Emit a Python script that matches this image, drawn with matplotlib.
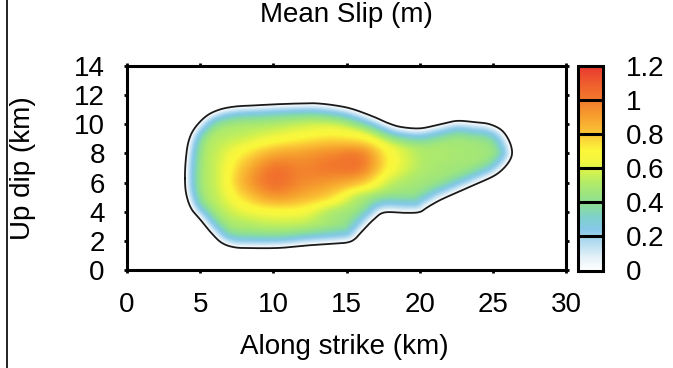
import numpy as np
import matplotlib
matplotlib.use("Agg")
import matplotlib.pyplot as plt
from matplotlib.colors import LinearSegmentedColormap
from matplotlib.path import Path
from matplotlib.lines import Line2D

plt.rcParams["font.family"] = ["Liberation Sans", "DejaVu Sans"]

# ---- slip model: samples on a regular grid (m) ----
strike_nodes = np.arange(0, 31, 2)   # km along strike
dip_nodes = np.arange(0, 15, 1)      # km up dip
slip_rows = [
    [.35, .36, .38, .40, .40, .40, .40, .40, .38, .36, .35, .35, .35, .35, .35, .35],
    [.35, .37, .40, .42, .42, .42, .42, .41, .38, .36, .35, .35, .35, .35, .35, .35],
    [.35, .38, .41, .43, .44, .45, .45, .43, .39, .36, .36, .36, .35, .35, .35, .35],
    [.35, .39, .43, .46, .50, .53, .52, .46, .40, .37, .37, .37, .36, .35, .35, .35],
    [.35, .40, .45, .50, .62, .68, .66, .52, .44, .39, .39, .38, .37, .36, .35, .35],
    [.35, .40, .46, .54, .76, .90, .85, .74, .52, .44, .42, .40, .39, .37, .35, .35],
    [.35, .41, .47, .56, .85, 1.02, .95, .90, .80, .56, .47, .44, .42, .39, .36, .35],
    [.35, .41, .47, .56, .82, 1.00, .97, 1.00, .98, .68, .52, .47, .45, .41, .37, .35],
    [.35, .41, .47, .55, .72, .86, .90, .95, .96, .68, .52, .49, .47, .42, .37, .35],
    [.35, .40, .46, .52, .58, .66, .72, .76, .72, .56, .47, .47, .45, .40, .36, .35],
    [.35, .40, .44, .48, .50, .52, .56, .58, .52, .45, .42, .43, .41, .38, .35, .35],
    [.35, .38, .42, .45, .46, .46, .47, .46, .43, .40, .39, .40, .38, .36, .35, .35],
    [.35, .37, .40, .42, .42, .42, .42, .42, .40, .38, .37, .37, .36, .35, .35, .35],
    [.35] * 16,
    [.35] * 16,
]

# rupture outline (km)
outline_x = [3.96, 4.02, 4.2, 4.6, 5.4, 6.3, 7.4, 8.8, 10.1, 11.5, 12.85, 14.2,
             15.4, 16.85, 17.8, 18.7, 20.0, 21.2, 22.5, 23.7, 24.8, 25.7, 26.25,
             26.2, 25.3, 23.7, 22.5, 21.4, 20.6, 20.0, 19.1, 17.6, 16.9, 16.2,
             15.6, 15.1, 14.3, 12.5, 10.5, 8.7, 7.4, 6.5, 5.8, 5.1, 4.4, 4.05]
outline_y = [6.3, 7.6, 8.8, 9.7, 10.55, 11.0, 11.22, 11.3, 11.37, 11.42, 11.44, 11.3,
             11.05, 10.52, 10.1, 9.82, 9.72, 9.95, 10.23, 10.15, 10.0, 9.5, 8.5,
             7.6, 6.6, 5.83, 5.3, 4.8, 4.35, 3.98, 3.92, 3.95, 3.5, 2.8,
             2.15, 1.9, 1.82, 1.7, 1.52, 1.5, 1.55, 1.85, 2.5, 3.35, 4.2, 5.2]

x_ticks = [0, 5, 10, 15, 20, 25, 30]
y_ticks = [0, 2, 4, 6, 8, 10, 12, 14]
cbar_ticks = [0, 0.2, 0.4, 0.6, 0.8, 1.0, 1.2]
cbar_labels = ["0", "0.2", "0.4", "0.6", "0.8", "1", "1.2"]


def cubic_weights(nodes, pts):
    """Catmull-Rom interpolation matrix from regular nodes to points."""
    h = nodes[1] - nodes[0]
    n = len(nodes)
    t = (pts - nodes[0]) / h
    i = np.clip(np.floor(t).astype(int), 0, n - 2)
    u = t - i
    w = [(-u**3 + 2*u**2 - u) / 2, (3*u**3 - 5*u**2 + 2) / 2,
         (-3*u**3 + 4*u**2 + u) / 2, (u**3 - u**2) / 2]
    W = np.zeros((len(pts), n))
    rows = np.arange(len(pts))
    for k in range(4):
        np.add.at(W, (rows, np.clip(i - 1 + k, 0, n - 1)), w[k])
    return W


def closed_spline(px, py, m=20):
    P = np.column_stack([px, py])
    N = len(P)
    u = np.linspace(0, 1, m, endpoint=False)[:, None]
    segs = []
    for j in range(N):
        p0, p1, p2, p3 = P[(j - 1) % N], P[j], P[(j + 1) % N], P[(j + 2) % N]
        segs.append(0.5 * (2*p1 + (-p0 + p2)*u + (2*p0 - 5*p1 + 4*p2 - p3)*u**2
                           + (-p0 + 3*p1 - 3*p2 + p3)*u**3))
    c = np.vstack(segs)
    return np.vstack([c, c[:1]])


# fine grid
xf = np.linspace(0, 30, 601)
yf = np.linspace(0, 14, 281)
S = np.array(slip_rows)
field = cubic_weights(dip_nodes, yf) @ S @ cubic_weights(strike_nodes, xf).T

curve = closed_spline(outline_x, outline_y)
XX, YY = np.meshgrid(xf, yf)
pts = np.column_stack([XX.ravel(), YY.ravel()])
inside = Path(curve).contains_points(pts)

# distance to the outline for interior points, used to fade slip at the edge
px_in, py_in = pts[inside, 0], pts[inside, 1]
d2 = np.full(px_in.shape, np.inf)
for (ax0, ay0), (bx, by) in zip(curve[:-1], curve[1:]):
    dx, dy = bx - ax0, by - ay0
    L2 = dx*dx + dy*dy
    if L2 == 0:
        continue
    t = np.clip(((px_in - ax0)*dx + (py_in - ay0)*dy) / L2, 0, 1)
    d2 = np.minimum(d2, (px_in - ax0 - t*dx)**2 + (py_in - ay0 - t*dy)**2)
dist = np.zeros(len(pts))
dist[inside] = np.sqrt(d2)
tt = np.clip(dist / 1.6, 0, 1)
taper = (1 - (1 - tt)**2).reshape(XX.shape)
Z = np.clip(field, 0, None) * taper

cmap = LinearSegmentedColormap.from_list("slip", [
    (0.00 / 1.2, "#ffffff"), (0.08 / 1.2, "#e2f0f8"), (0.16 / 1.2, "#b4dcf0"),
    (0.24 / 1.2, "#86c9e8"), (0.31 / 1.2, "#7fd0cc"), (0.37 / 1.2, "#88dca0"),
    (0.44 / 1.2, "#9ae482"), (0.52 / 1.2, "#b4ec66"), (0.58 / 1.2, "#d6f24c"),
    (0.64 / 1.2, "#f4f640"), (0.70 / 1.2, "#fbf73a"), (0.80 / 1.2, "#fbc636"),
    (0.90 / 1.2, "#f6a02e"), (1.00 / 1.2, "#f27a2c"), (1.10 / 1.2, "#ef5c2e"),
    (1.20 / 1.2, "#e8382f")])

W, H = 673, 368
fig = plt.figure(figsize=(W / 100, H / 100), dpi=100)
ax = fig.add_axes([127 / W, 1 - 270 / H, 439 / W, 204 / H])
im = ax.imshow(Z, extent=[0, 30, 0, 14], origin="lower", cmap=cmap,
               vmin=0, vmax=1.2, aspect="auto", interpolation="bilinear")
ax.plot(curve[:, 0], curve[:, 1], color="#1a1a1a", lw=1.3)

ax.set_xlim(0, 30)
ax.set_ylim(0, 14)
ax.set_xticks(x_ticks)
ax.set_yticks(y_ticks)
fs = 20
ax.tick_params(direction="out", length=2, width=2, top=True, right=True,
               labelsize=fs, pad=14)
for sp in ax.spines.values():
    sp.set_linewidth(2.2)

ax.set_title("Mean Slip (m)", fontsize=fs, y=(270 - 30) / 204, va="baseline")
ax.set_xlabel("Along strike (km)", fontsize=fs)
ax.xaxis.set_label_coords((344 - 127) / 439, (270 - 354) / 204)
ax.xaxis.label.set_va("baseline")
ax.set_ylabel("Up dip (km)", fontsize=fs)
ax.yaxis.set_label_coords((23 - 127) / 439, 0.5)
ax.yaxis.label.set_va("center")

cax = fig.add_axes([577.5 / W, 1 - 270.5 / H, 25 / W, 205 / H])
cb = fig.colorbar(im, cax=cax, ticks=cbar_ticks)
cb.ax.set_yticklabels(cbar_labels)
cb.ax.tick_params(length=0, labelsize=fs, pad=17)
cb.outline.set_linewidth(2.2)
for v in cbar_ticks[1:-1]:
    cb.ax.axhline(v, color="black", lw=2.2)

fig.add_artist(Line2D([6.5 / W, 6.5 / W], [0.0, 1.0], transform=fig.transFigure,
                      color="#222222", lw=1.4))

fig.savefig("out.png", dpi=100)
